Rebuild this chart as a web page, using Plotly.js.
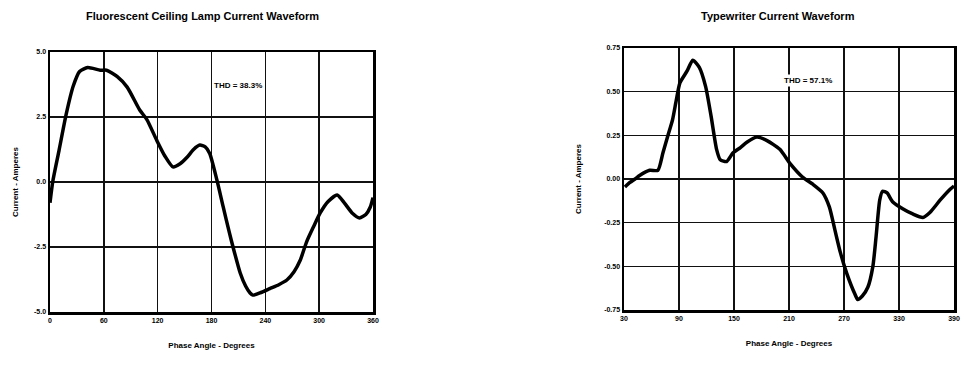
<!DOCTYPE html>
<html>
<head>
<meta charset="utf-8">
<script src="https://cdn.plot.ly/plotly-3.0.1.min.js"></script>
<style>html,body{margin:0;padding:0;background:#fff}#chart{width:965px;height:366px}</style>
</head>
<body>
<div id="chart"></div>
<script>
// Fluorescent ceiling lamp (left)
const lampAngle = [0, 3, 10, 18, 26, 33, 42, 56, 63, 75, 86, 100, 108, 119, 128, 137, 145, 153, 160, 167, 173, 178, 186, 193, 200, 204, 212, 218, 223, 226, 235, 245, 255, 264, 272, 279, 286, 294, 301, 310, 320, 328, 337, 345, 352, 357, 360];
const lampCurrent = [-0.8, 0.0, 1.2, 2.6, 3.7, 4.25, 4.4, 4.3, 4.3, 4.05, 3.65, 2.77, 2.4, 1.6, 1.0, 0.58, 0.7, 0.96, 1.25, 1.42, 1.35, 1.1, 0.08, -0.95, -1.96, -2.5, -3.5, -4.0, -4.27, -4.35, -4.25, -4.1, -3.95, -3.77, -3.45, -3.0, -2.3, -1.7, -1.2, -0.75, -0.5, -0.8, -1.2, -1.38, -1.25, -0.96, -0.6];
// Typewriter (right)
const twAngle = [31, 36.5, 42, 47, 58, 67, 72.5, 78, 83, 87, 91, 99, 105, 112, 119, 125, 131, 135, 142, 149, 157, 164, 175, 186, 200, 211, 225, 236, 247, 254, 260, 266, 273, 282, 285, 290, 296, 301.5, 305, 309, 312, 317, 323, 334, 345, 356, 364, 375, 385.5, 390];
const twCurrent = [-0.046, -0.02, 0.0, 0.02, 0.05, 0.05, 0.15, 0.25, 0.34, 0.45, 0.55, 0.62, 0.68, 0.64, 0.53, 0.36, 0.17, 0.11, 0.10, 0.15, 0.18, 0.21, 0.24, 0.22, 0.17, 0.09, 0.01, -0.03, -0.08, -0.16, -0.29, -0.42, -0.54, -0.66, -0.69, -0.67, -0.62, -0.50, -0.33, -0.12, -0.07, -0.08, -0.13, -0.17, -0.20, -0.22, -0.19, -0.12, -0.06, -0.04];

const lampXTicks = [0, 60, 120, 180, 240, 300, 360];
const lampYTicks = [5.0, 2.5, 0.0, -2.5, -5.0];
const lampYLabels = ['5.0', '2.5', '0.0', '-2.5', '-5.0'];
const twXTicks = [30, 90, 150, 210, 270, 330, 390];
const twYTicks = [0.75, 0.50, 0.25, 0.00, -0.25, -0.50, -0.75];
const twYLabels = ['0.75', '0.50', '0.25', '0.00', '-0.25', '-0.50', '-0.75'];

const F = 'Liberation Sans, Arial, sans-serif';
const lineStyle = {color: '#000', width: 3.5, shape: 'spline', smoothing: 0.6};

const traces = [
  {x: lampAngle, y: lampCurrent, xaxis: 'x', yaxis: 'y', mode: 'lines', line: lineStyle, hoverinfo: 'skip'},
  {x: twAngle, y: twCurrent, xaxis: 'x2', yaxis: 'y2', mode: 'lines', line: lineStyle, hoverinfo: 'skip'}
];

function xa(domain, range, ticks, title) {
  return {domain: domain, range: range, tickmode: 'array', tickvals: ticks, ticktext: ticks.map(String),
    showgrid: true, gridcolor: '#111', gridwidth: 1.5, zeroline: false,
    showline: true, linecolor: '#000', linewidth: 2.5, mirror: true,
    ticks: '', tickfont: {family: F, size: 7, color: '#000', weight: 'bold'},
    title: {text: '<b>' + title + '</b>', font: {family: F, size: 8, color: '#000'}, standoff: 20}};
}
function ya(domain, range, ticks, labels, title, anchor, standoff) {
  return {domain: domain, range: range, anchor: anchor, tickmode: 'array', tickvals: ticks, ticktext: labels,
    showgrid: true, gridcolor: '#111', gridwidth: 1.5, zeroline: false,
    showline: true, linecolor: '#000', linewidth: 2.5, mirror: true,
    ticks: '', tickfont: {family: F, size: 7, color: '#000', weight: 'bold'},
    title: {text: '<b>' + title + '</b>', font: {family: F, size: 8, color: '#000'}, standoff: standoff}};
}

const layout = {
  width: 965, height: 366, margin: {l: 0, r: 0, t: 0, b: 0},
  paper_bgcolor: '#fff', plot_bgcolor: '#fff', showlegend: false,
  xaxis: Object.assign(xa([50/965, 373/965], [0, 360], lampXTicks, 'Phase Angle - Degrees'), {anchor: 'y'}),
  yaxis: ya([1 - 312/366, 1 - 52/366], [-5, 5], lampYTicks, lampYLabels, 'Current - Amperes', 'x', 14),
  xaxis2: Object.assign(xa([624/965, 954/965], [30, 390], twXTicks, 'Phase Angle - Degrees'), {anchor: 'y2'}),
  yaxis2: ya([1 - 310/366, 1 - 48/366], [-0.75, 0.75], twYTicks, twYLabels, 'Current - Amperes', 'x2', 22),
  annotations: [
    {text: '<b>Fluorescent Ceiling Lamp Current Waveform</b>', xref: 'paper', yref: 'paper', x: 202/965, y: 1 - 16/366,
     xanchor: 'center', yanchor: 'middle', showarrow: false, font: {family: F, size: 11, color: '#000'}},
    {text: '<b>Typewriter Current Waveform</b>', xref: 'paper', yref: 'paper', x: 778/965, y: 1 - 16/366,
     xanchor: 'center', yanchor: 'middle', showarrow: false, font: {family: F, size: 11, color: '#000'}},
    {text: '<b>THD = 38.3%</b>', xref: 'paper', yref: 'paper', x: 238/965, y: 1 - 85/366,
     xanchor: 'center', yanchor: 'middle', showarrow: false, bgcolor: '#fff', font: {family: F, size: 8, color: '#000'}},
    {text: '<b>THD = 57.1%</b>', xref: 'paper', yref: 'paper', x: 808/965, y: 1 - 80/366,
     xanchor: 'center', yanchor: 'middle', showarrow: false, bgcolor: '#fff', font: {family: F, size: 8, color: '#000'}}
  ]
};

Plotly.newPlot('chart', traces, layout, {displayModeBar: false, staticPlot: true});
</script>
</body>
</html>
